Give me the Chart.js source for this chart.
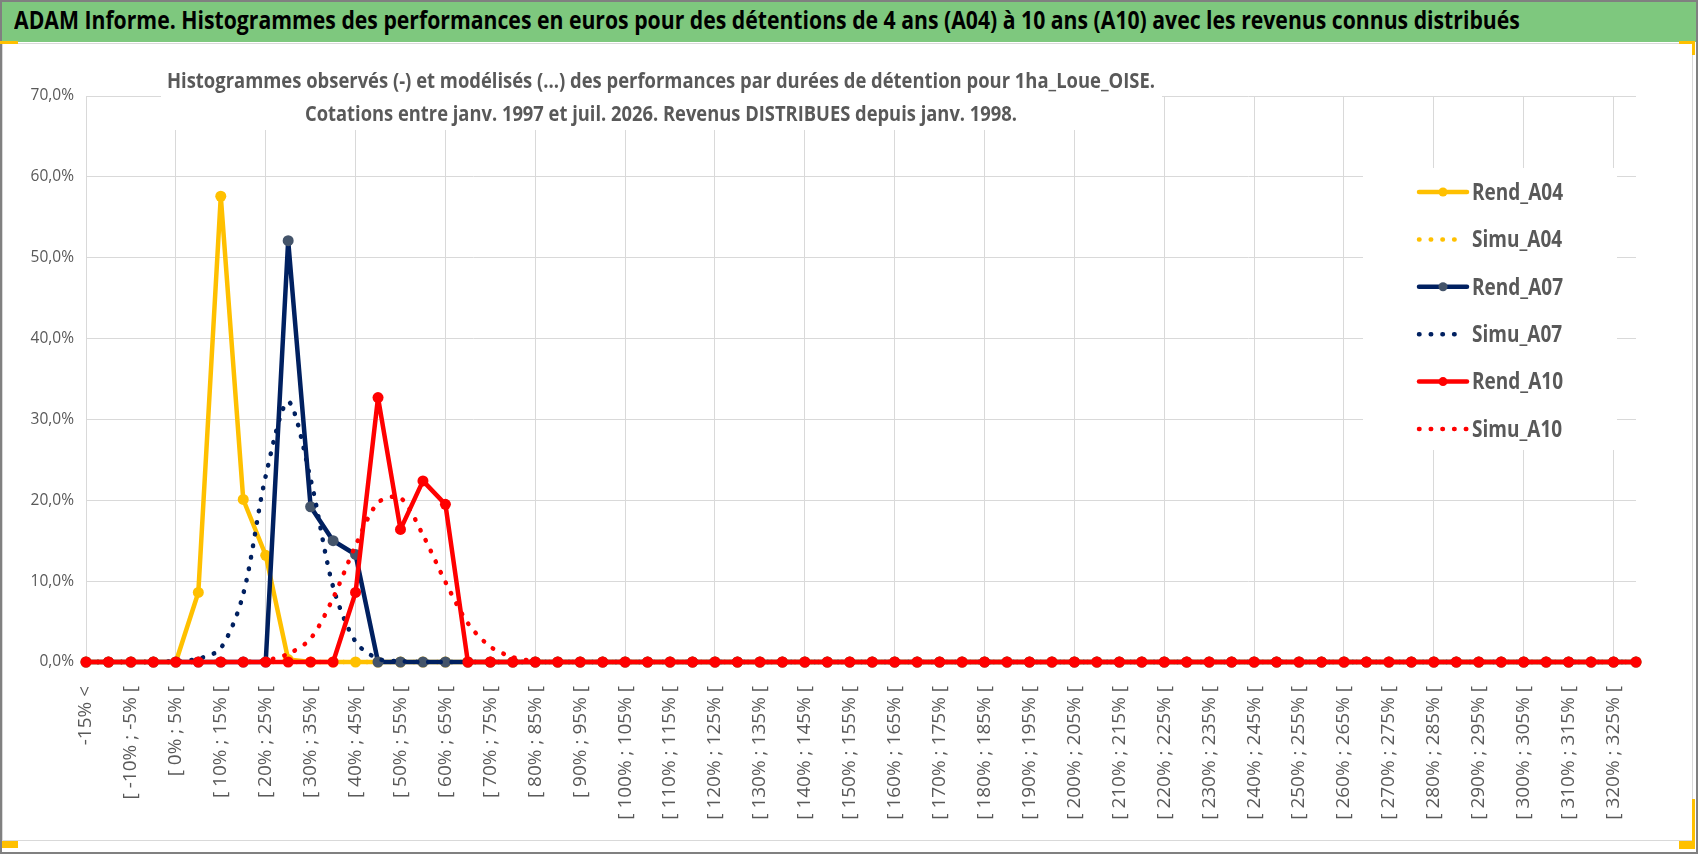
<!DOCTYPE html>
<html>
<head>
<meta charset="utf-8">
<title>ADAM Informe - histogrammes</title>
<script src="https://cdn.jsdelivr.net/npm/chart.js@4.4.0/dist/chart.umd.min.js"></script>
<style>
  html, body { margin: 0; padding: 0; background: #fff; }
  #frame { position: relative; width: 1698px; height: 854px; overflow: hidden; background: #fff; }
  .edge { position: absolute; background: #808080; }
  .handle { position: absolute; background: #FFC000; }
  #banner { position: absolute; left: 2px; top: 2px; width: 1694px; height: 40px; background: #7EC87E; }
  #bannerText { position: absolute; left: 12px; top: 0; line-height: 40px; white-space: nowrap;
    font: bold 25px "Open Sans", sans-serif; color: #000; transform-origin: left center; }
  #chartBox { position: absolute; left: 2px; top: 43px; width: 1691px; height: 798px;
    box-sizing: border-box; border: 1px solid #D9D9D9; background: #fff; }
  #holder { position: absolute; left: 0; top: 0; width: 1689px; height: 796px; }
</style>
</head>
<body>
<div id="frame">
  <div id="banner"><span id="bannerText">ADAM Informe. Histogrammes des performances en euros pour des détentions de 4 ans (A04) à 10 ans (A10) avec les revenus connus distribués</span></div>
  <div id="chartBox"><div id="holder"><canvas id="perfChart"></canvas></div></div>
  <div class="edge" style="left:0;top:0;width:1698px;height:2px"></div>
  <div class="edge" style="left:0;top:0;width:2px;height:854px"></div>
  <div class="edge" style="left:1696px;top:0;width:2px;height:854px"></div>
  <div class="edge" style="left:0;top:852px;width:1698px;height:2px"></div>
  <div class="handle" style="left:0;top:41px;width:18px;height:3px"></div>
  <div class="handle" style="left:1679px;top:41px;width:16px;height:3px"></div>
  <div class="handle" style="left:1692px;top:41px;width:3px;height:14px"></div>
  <div class="handle" style="left:2px;top:841px;width:16px;height:7px"></div>
  <div class="handle" style="left:1679px;top:841px;width:16px;height:8px"></div>
  <div class="handle" style="left:1692px;top:799px;width:3px;height:50px"></div>
</div>
<script>
// categories (classes de performance) and series, values in %
const categories = [
  '-15% <', '[ -15% ; -10% [', '[ -10% ; -5% [', '[ -5% ; 0% [', '[ 0% ; 5% [',
  '[ 5% ; 10% [', '[ 10% ; 15% [', '[ 15% ; 20% [', '[ 20% ; 25% [', '[ 25% ; 30% [',
  '[ 30% ; 35% [', '[ 35% ; 40% [', '[ 40% ; 45% [', '[ 45% ; 50% [', '[ 50% ; 55% [',
  '[ 55% ; 60% [', '[ 60% ; 65% [', '[ 65% ; 70% [', '[ 70% ; 75% [', '[ 75% ; 80% [',
  '[ 80% ; 85% [', '[ 85% ; 90% [', '[ 90% ; 95% [', '[ 95% ; 100% [', '[ 100% ; 105% [',
  '[ 105% ; 110% [', '[ 110% ; 115% [', '[ 115% ; 120% [', '[ 120% ; 125% [', '[ 125% ; 130% [',
  '[ 130% ; 135% [', '[ 135% ; 140% [', '[ 140% ; 145% [', '[ 145% ; 150% [', '[ 150% ; 155% [',
  '[ 155% ; 160% [', '[ 160% ; 165% [', '[ 165% ; 170% [', '[ 170% ; 175% [', '[ 175% ; 180% [',
  '[ 180% ; 185% [', '[ 185% ; 190% [', '[ 190% ; 195% [', '[ 195% ; 200% [', '[ 200% ; 205% [',
  '[ 205% ; 210% [', '[ 210% ; 215% [', '[ 215% ; 220% [', '[ 220% ; 225% [', '[ 225% ; 230% [',
  '[ 230% ; 235% [', '[ 235% ; 240% [', '[ 240% ; 245% [', '[ 245% ; 250% [', '[ 250% ; 255% [',
  '[ 255% ; 260% [', '[ 260% ; 265% [', '[ 265% ; 270% [', '[ 270% ; 275% [', '[ 275% ; 280% [',
  '[ 280% ; 285% [', '[ 285% ; 290% [', '[ 290% ; 295% [', '[ 295% ; 300% [', '[ 300% ; 305% [',
  '[ 305% ; 310% [', '[ 310% ; 315% [', '[ 315% ; 320% [', '[ 320% ; 325% [', '[ 325% ; 330% ['
];

const rendA04 = [
  0, 0, 0, 0, 0, 8.6, 57.6, 20.1, 13.2, 0.3,
  0, 0, 0, 0, 0, 0, 0, 0, 0, 0,
  0, 0, 0, 0, 0, 0, 0, 0, 0, 0,
  0, 0, 0, 0, 0, 0, 0, 0, 0, 0,
  0, 0, 0, 0, 0, 0, 0, 0, 0, 0,
  0, 0, 0, 0, 0, 0, 0, 0, 0, 0,
  0, 0, 0, 0, 0, 0, 0, 0, 0, 0
];
const simuA04 = [
  0, 0, 0, 0, 0, 0, 0, 0, 0, 0,
  0, 0, 0, 0, 0, 0, 0, 0, 0, 0,
  0, 0, 0, 0, 0, 0, 0, 0, 0, 0,
  0, 0, 0, 0, 0, 0, 0, 0, 0, 0,
  0, 0, 0, 0, 0, 0, 0, 0, 0, 0,
  0, 0, 0, 0, 0, 0, 0, 0, 0, 0,
  0, 0, 0, 0, 0, 0, 0, 0, 0, 0
];
const rendA07 = [
  0, 0, 0, 0, 0, 0, 0, 0, 0, 52.1,
  19.2, 15.0, 13.3, 0, 0, 0, 0, 0, 0, 0,
  0, 0, 0, 0, 0, 0, 0, 0, 0, 0,
  0, 0, 0, 0, 0, 0, 0, 0, 0, 0,
  0, 0, 0, 0, 0, 0, 0, 0, 0, 0,
  0, 0, 0, 0, 0, 0, 0, 0, 0, 0,
  0, 0, 0, 0, 0, 0, 0, 0, 0, 0
];
const simuA07 = [
  0, 0, 0, 0, 0.1, 0.4, 1.7, 8.4, 23.0, 32.2,
  22.6, 9.3, 2.5, 0.4, 0.1, 0, 0, 0, 0, 0,
  0, 0, 0, 0, 0, 0, 0, 0, 0, 0,
  0, 0, 0, 0, 0, 0, 0, 0, 0, 0,
  0, 0, 0, 0, 0, 0, 0, 0, 0, 0,
  0, 0, 0, 0, 0, 0, 0, 0, 0, 0,
  0, 0, 0, 0, 0, 0, 0, 0, 0, 0
];
const rendA10 = [
  0, 0, 0, 0, 0, 0, 0, 0, 0, 0,
  0, 0, 8.6, 32.7, 16.4, 22.4, 19.5, 0, 0, 0,
  0, 0, 0, 0, 0, 0, 0, 0, 0, 0,
  0, 0, 0, 0, 0, 0, 0, 0, 0, 0,
  0, 0, 0, 0, 0, 0, 0, 0, 0, 0,
  0, 0, 0, 0, 0, 0, 0, 0, 0, 0,
  0, 0, 0, 0, 0, 0, 0, 0, 0, 0
];
const simuA10 = [
  0, 0, 0, 0, 0, 0, 0, 0, 0.2, 1.0,
  2.9, 7.9, 14.4, 19.7, 20.3, 15.7, 9.9, 4.8, 1.9, 0.6,
  0.1, 0, 0, 0, 0, 0, 0, 0, 0, 0,
  0, 0, 0, 0, 0, 0, 0, 0, 0, 0,
  0, 0, 0, 0, 0, 0, 0, 0, 0, 0,
  0, 0, 0, 0, 0, 0, 0, 0, 0, 0,
  0, 0, 0, 0, 0, 0, 0, 0, 0, 0
];

const titleLines = [
  'Histogrammes observés (-) et modélisés (...) des performances par durées de détention pour 1ha_Loue_OISE.',
  'Cotations entre janv. 1997 et juil. 2026. Revenus DISTRIBUES depuis janv. 1998.'
];

const GOLD = '#FFC000', NAVY = '#002060', NAVY_PT = '#44546A', RED = '#FF0000', GREY = '#595959';

// squeeze the banner text to the width it has in the picture
const bt = document.getElementById('bannerText');
bt.style.transform = 'scaleX(' + (1506 / bt.offsetWidth) + ')';

function rendSet(label, data, color, ptColor, n) {
  return {
    label: label, data: data, borderColor: color, borderWidth: 4.5, borderJoinStyle: 'round',
    pointRadius: 5.5, pointBackgroundColor: ptColor, pointBorderColor: ptColor, pointBorderWidth: 0,
    tension: 0, clip: false, order: 5 - n
  };
}
function simuSet(label, data, color, n) {
  return {
    label: label, data: data, borderColor: color, borderWidth: 4.5,
    borderDash: [0.5, 11.2], borderCapStyle: 'round', pointRadius: 0,
    tension: 0.3, clip: false, order: 5 - n
  };
}

// chart title with its white box over the grid
const titleBox = {
  id: 'titleBox',
  beforeDatasetsDraw(chart) {
    const ctx = chart.ctx;
    ctx.save();
    ctx.fillStyle = '#fff';
    ctx.fillRect(158, 14, 1001, 72);
    ctx.fillStyle = GREY;
    ctx.font = 'bold 21px "Open Sans", sans-serif';
    ctx.textAlign = 'center';
    ctx.textBaseline = 'middle';
    const widths = [988, 712], ys = [38, 71];
    titleLines.forEach(function (t, i) {
      const sx = widths[i] / ctx.measureText(t).width;
      ctx.save();
      ctx.translate(658, ys[i]);
      ctx.scale(sx, 1);
      ctx.fillText(t, 0, 0);
      ctx.restore();
    });
    ctx.restore();
  }
};

// legend drawn inside the plot, on the right
const legendBox = {
  id: 'legendBox',
  afterDraw(chart) {
    const ctx = chart.ctx;
    ctx.save();
    ctx.fillStyle = '#fff';
    ctx.fillRect(1360, 124, 254, 282);
    ctx.font = 'bold 24px "Open Sans", sans-serif';
    const sx = 91 / ctx.measureText('Rend_A04').width;
    chart.data.datasets.forEach(function (ds, i) {
      const y = 148 + i * 47.4;
      ctx.strokeStyle = ds.borderColor;
      ctx.lineWidth = ds.borderWidth;
      ctx.lineCap = 'round';
      ctx.setLineDash(ds.borderDash || []);
      ctx.beginPath();
      ctx.moveTo(1416, y);
      ctx.lineTo(ds.borderDash ? (i === 5 ? 1465 : 1455) : 1464, y);
      ctx.stroke();
      ctx.setLineDash([]);
      if (ds.pointRadius) {
        ctx.fillStyle = ds.pointBackgroundColor;
        ctx.beginPath();
        ctx.arc(1440, y, 4.5, 0, Math.PI * 2);
        ctx.fill();
      }
      ctx.fillStyle = GREY;
      ctx.textBaseline = 'middle';
      ctx.save();
      ctx.translate(1469, y + 1);
      ctx.scale(sx, 1);
      ctx.fillText(ds.label, 0, 0);
      ctx.restore();
    });
    ctx.restore();
  }
};

new Chart(document.getElementById('perfChart'), {
  type: 'line',
  data: {
    labels: categories,
    datasets: [
      rendSet('Rend_A04', rendA04, GOLD, GOLD, 0),
      simuSet('Simu_A04', simuA04, GOLD, 1),
      rendSet('Rend_A07', rendA07, NAVY, NAVY_PT, 2),
      simuSet('Simu_A07', simuA07, NAVY, 3),
      rendSet('Rend_A10', rendA10, RED, RED, 4),
      simuSet('Simu_A10', simuA10, RED, 5)
    ]
  },
  options: {
    responsive: true,
    maintainAspectRatio: false,
    animation: false,
    layout: { padding: { left: 0, right: 56, top: 52, bottom: 0 } },
    plugins: { legend: { display: false }, tooltip: { enabled: false }, title: { display: false } },
    scales: {
      x: {
        offset: false,
        afterFit: function (s) { s.height = 178; },
        border: { display: false },
        grid: {
          drawTicks: false, lineWidth: 1,
          color: function (c) { return c.index % 4 === 0 ? '#D9D9D9' : 'rgba(0,0,0,0)'; }
        },
        ticks: {
          autoSkip: false, minRotation: 90, maxRotation: 90, padding: 24,
          color: GREY, font: { family: '"Open Sans", sans-serif', size: 19 },
          callback: function (v, i) { return i % 2 === 0 ? categories[i] : ''; }
        }
      },
      y: {
        min: 0, max: 70,
        afterFit: function (s) { s.width = 83; },
        border: { display: false },
        grid: { drawTicks: false, color: '#D9D9D9', lineWidth: 1 },
        ticks: {
          stepSize: 10, padding: 12, color: GREY,
          font: { family: '"Open Sans", sans-serif', size: 15.5 },
          callback: function (v) { return v.toFixed(1).replace('.', ',') + '%'; }
        }
      }
    }
  },
  plugins: [titleBox, legendBox]
});
</script>
</body>
</html>
